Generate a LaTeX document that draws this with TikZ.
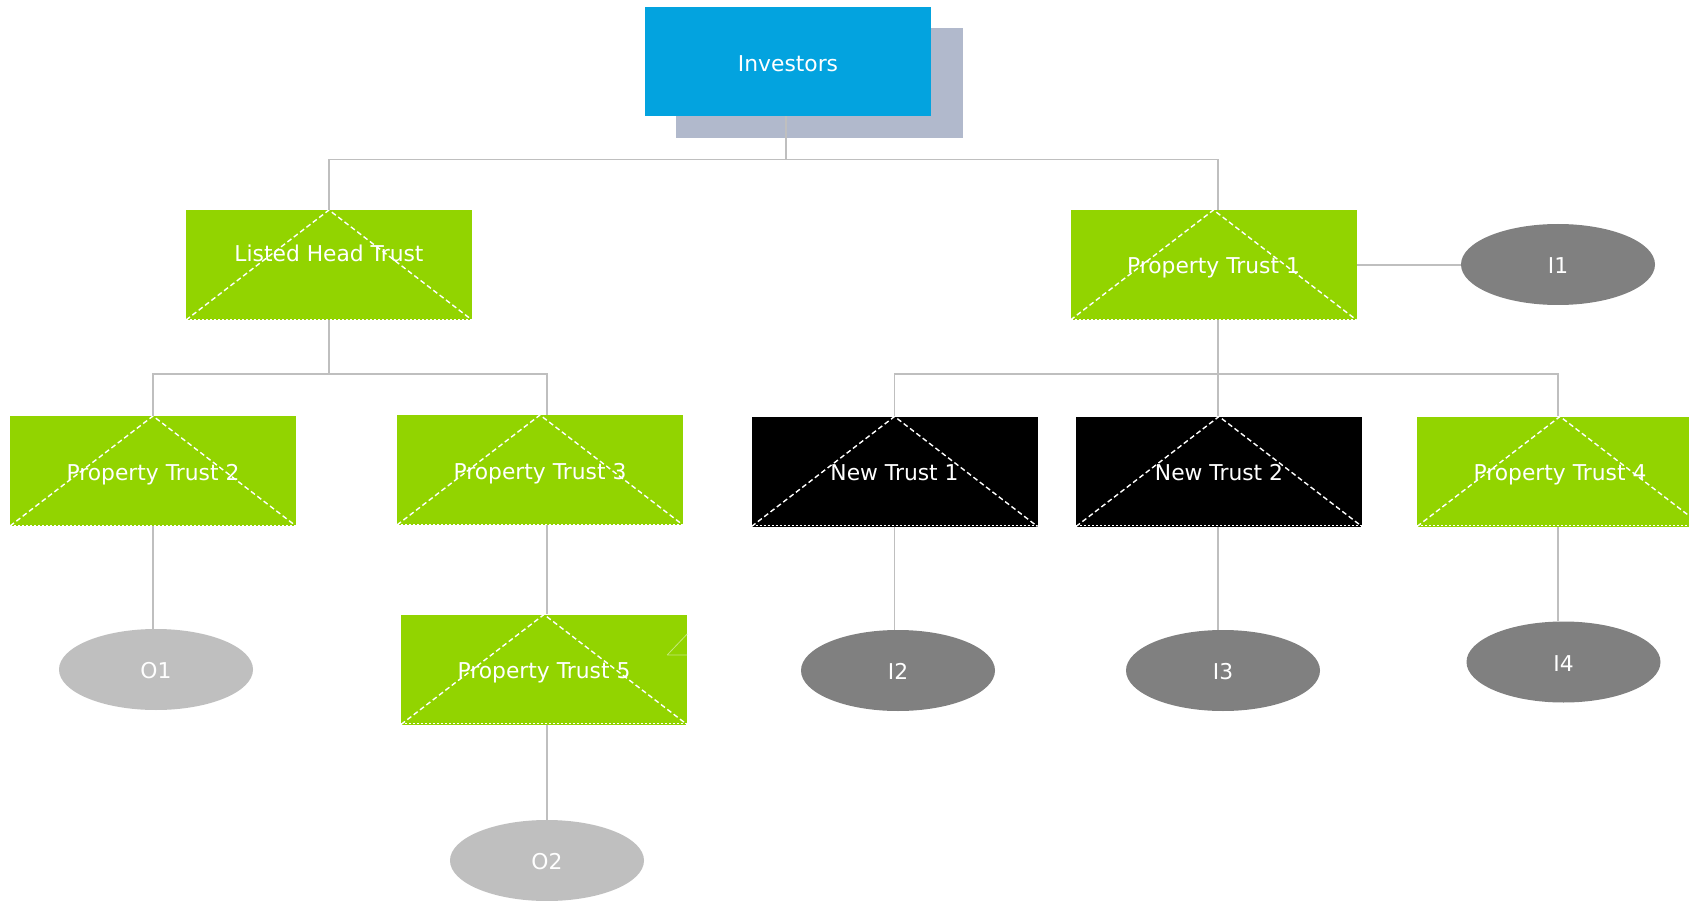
\documentclass[tikz,border=0pt]{standalone}
\usepackage{fontspec}
\usetikzlibrary{shapes.geometric}
\setmainfont{DejaVu Sans}
\newfontfamily\boxfont{DejaVu Sans}
\definecolor{trustgreen}{HTML}{92D400}
\definecolor{invblue}{HTML}{03A3DF}
\definecolor{shadowgrey}{HTML}{B1B9CC}
\definecolor{linkgrey}{HTML}{BFBFBF}
\definecolor{ogrey}{HTML}{BFBFBF}
\definecolor{igrey}{HTML}{808080}
\definecolor{markgreen}{HTML}{C4E87A}
\begin{document}
\begin{tikzpicture}[x=1pt,y=-1pt,
  lbl/.style={text=white, font=\boxfont\fontsize{21.8}{26}\selectfont, text height=18pt, text depth=0pt},
  box/.style={rectangle, minimum width=286pt, minimum height=110pt, inner sep=0pt, lbl},
  tri/.style={box, path picture={
      \draw[white, line width=1.4pt, dash pattern=on 5pt off 3pt]
        (path picture bounding box.south west) -- (path picture bounding box.north)
        -- (path picture bounding box.south east);
      \draw[white, line width=1.3pt, dash pattern=on 2pt off 2pt]
        ([yshift=0.7pt]path picture bounding box.south west) -- ([yshift=0.7pt]path picture bounding box.south east);}},
  greenbox/.style={tri, fill=trustgreen},
  blackbox/.style={tri, fill=black},
  party/.style={ellipse, minimum width=194pt, minimum height=81pt, inner sep=0pt, lbl},
  outerparty/.style={party, fill=ogrey},
  innerparty/.style={party, fill=igrey},
  link/.style={draw=linkgrey, line width=1.5pt}]
\clip (0,0) rectangle (1689,901);
\fill[white] (0,0) rectangle (1689,901);

% top investor box with its offset backing panel
\node[rectangle, fill=shadowgrey, minimum width=287pt, minimum height=110pt, inner sep=0pt] (invshadow) at (819.5,83) {};
\node[box, fill=invblue, minimum height=109pt, text height=20pt] (inv) at (788,61.5) {Investors};

% trusts
\node[greenbox, label={[lbl, yshift=12pt]center:Listed Head Trust}] (lht) at (329,265) {};
\node[greenbox] (pt1) at (1213.5,265) {Property Trust 1};
\node[greenbox] (pt2) at (153,471) {Property Trust 2};
\node[greenbox] (pt3) at (540,470) {Property Trust 3};
\node[greenbox] (pt5) at (544,669.5) {Property Trust 5};
\node[blackbox] (nt1) at (894.5,471.5) {New Trust 1};
\node[blackbox] (nt2) at (1219,471.5) {New Trust 2};
\node[greenbox] (pt4) at (1560,471.5) {Property Trust 4};

% small corner mark on Property Trust 5
\draw[markgreen, line width=0.8pt] ([xshift=-20pt, yshift=14.5pt]pt5.east) -- ([yshift=14.5pt]pt5.east)
  ([xshift=-20pt, yshift=14.5pt]pt5.east) -- ([yshift=35.5pt]pt5.east);

% parties
\node[innerparty] (i1) at (1558,264.5) {I1};
\node[outerparty] (o1) at (156,669.5) {O1};
\node[outerparty] (o2) at (547,860.5) {O2};
\node[innerparty] (i2) at (898,670.5) {I2};
\node[innerparty] (i3) at (1223,670.5) {I3};
\node[innerparty] (i4) at (1563.5,662) {I4};

% connectors
\coordinate (j0) at (786,159.5);
\coordinate (j1) at (329,374);
\coordinate (j2) at (1218,374);
\draw[link] (j0 |- inv.south) -- (j0);
\draw[link] (lht.north) |- (j0) -| ([xshift=4.5pt]pt1.north);
\draw[link] (lht.south) -- (j1);
\draw[link] (pt2.north) |- (j1) -| ([xshift=7pt]pt3.north);
\draw[link] ([xshift=7pt]pt3.south) -- ([xshift=3pt]pt5.north);
\draw[link] ([xshift=3pt]pt5.south) -- (o2.north);
\draw[link] (pt2.south) -- (pt2.south |- o1.north);
\draw[link] ([xshift=4.5pt]pt1.south) -- (j2);
\draw[link] (nt1.north) |- (j2) -| ([xshift=-2pt]pt4.north);
\draw[link] (j2) -- (j2 |- nt2.north);
\draw[link] (nt1.south) -- (nt1.south |- i2.north);
\draw[link] (j2 |- nt2.south) -- (j2 |- i3.north);
\draw[link] ([xshift=-2pt]pt4.south) -- ([xshift=-2pt]pt4.south |- i4.north);
\draw[link] (i1.west |- pt1.east) -- (pt1.east);
\end{tikzpicture}
\end{document}
